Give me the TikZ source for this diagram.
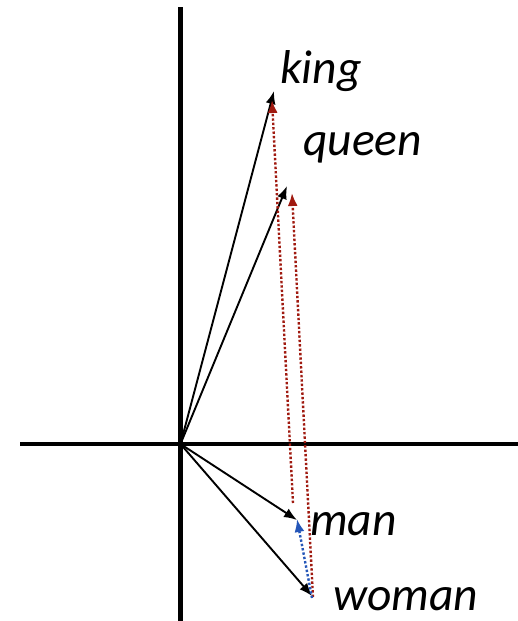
\documentclass[tikz,border=0pt]{standalone}
\usepackage{fontspec}
\setmainfont{Carlito}
\usetikzlibrary{arrows.meta}
\definecolor{cDiff}{HTML}{A01A10}
\definecolor{cGender}{HTML}{2456B8}
\tikzset{
  axis/.style={line width=4.5pt, draw=black},
  vec/.style={-{Latex[length=13pt, width=10pt]}, line width=1.9pt, draw=black},
  diffvec/.style={-{Latex[length=13pt, width=10pt]}, line width=2.4pt, draw=cDiff,
    dash pattern=on 2.4pt off 2pt},
  gendervec/.style={-{Latex[length=13pt, width=10pt]}, line width=2.4pt, draw=cGender,
    dash pattern=on 2.4pt off 2pt},
  word/.style={font=\fontsize{47.5}{47.5}\selectfont\itshape, inner sep=0pt, anchor=base west},
}

\begin{document}
\begin{tikzpicture}[x=1pt, y=-1pt]
  \useasboundingbox (0,0) rectangle (518,621);

  % ------------------------------------------------------------
  % Axes
  % ------------------------------------------------------------
  \coordinate (O) at (180.5,444);
  \coordinate (ytop) at (180.5,7);
  \coordinate (ybot) at (180.5,621);
  \coordinate (xleft) at (20,444);
  \coordinate (xright) at (518,444);
  \draw[axis] (ytop) -- (ybot);
  \draw[axis] (xleft) -- (xright);

  % ------------------------------------------------------------
  % Word vectors
  % ------------------------------------------------------------
  \coordinate (king) at (274,91);
  \coordinate (queen) at (287,186);
  \coordinate (man) at (297,520);
  \coordinate (woman) at (312,596);

  \draw[vec] (O) -- (king);
  \draw[vec] (O) -- (queen);
  \draw[vec] (O) -- (man);
  \draw[vec] (O) -- (woman);

  % ------------------------------------------------------------
  % Offsets: king - man, queen - woman, man - woman
  % ------------------------------------------------------------
  \coordinate (manbase) at (293,503);
  \coordinate (kingtip) at (272,100);
  \coordinate (womanbase) at (313,597);
  \coordinate (queentip) at (292,193);
  \coordinate (womanfoot) at (312,598);
  \coordinate (mantip) at (297,519);

  \draw[diffvec] (manbase) -- (kingtip);
  \draw[diffvec] (womanbase) -- (queentip);
  \draw[gendervec] (womanfoot) -- (mantip);

  % ------------------------------------------------------------
  % Labels
  % ------------------------------------------------------------
  \node[word] (lking) at (280,83) {king};
  \node[word] (lqueen) at (303,155) {queen};
  \node[word] (lman) at (310,535) {man};
  \node[word] (lwoman) at (333,610) {woman};

\end{tikzpicture}
\end{document}
